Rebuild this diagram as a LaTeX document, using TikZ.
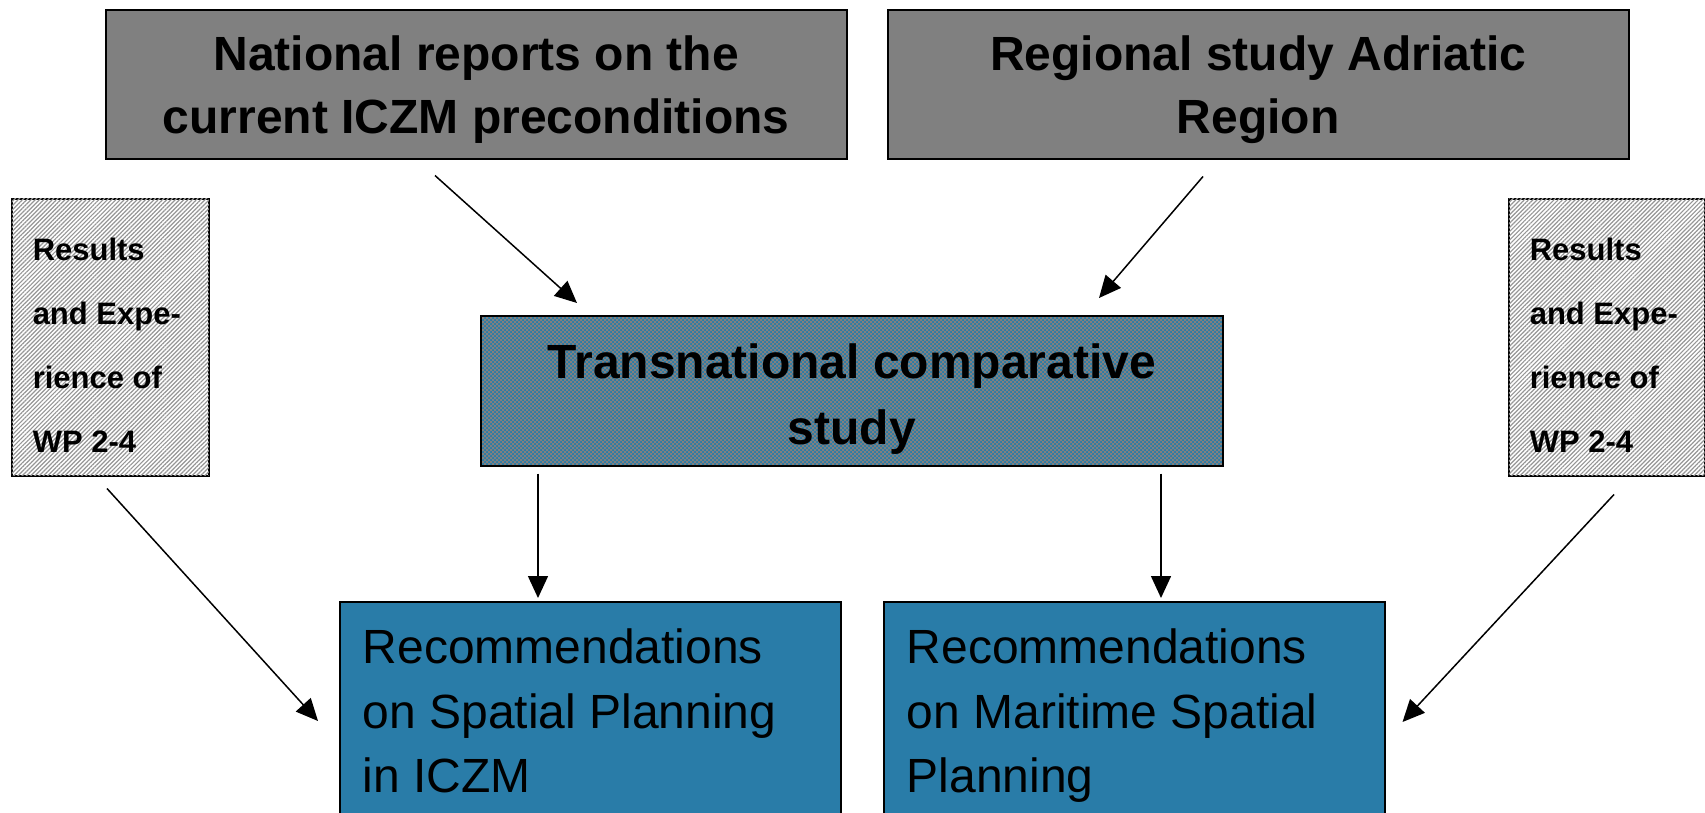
\documentclass[tikz,border=0pt]{standalone}
\usepackage{fontspec}
\setmainfont{Liberation Sans}
\usetikzlibrary{arrows.meta,patterns.meta,calc}
\definecolor{mblue}{RGB}{41,124,168}
\definecolor{mgray}{RGB}{128,128,128}
\definecolor{hgray}{RGB}{150,150,150}
\tikzset{
  basebox/.style={draw=black, line width=1.5pt, inner sep=0pt, anchor=north west, text height=0pt},
  graybox/.style={basebox, fill=mgray, font=\bfseries\fontsize{48}{63}\selectfont},
  transbox/.style={basebox, font=\bfseries\fontsize{48}{66}\selectfont},
  hatchbox/.style={basebox, fill=white, postaction={pattern={Lines[angle=45,distance=3pt,line width=1.2pt]}, pattern color=hgray}, font=\bfseries\fontsize{31}{64}\selectfont},
  recbox/.style={basebox, fill=mblue, font=\fontsize{48}{64.5}\selectfont},
  arr/.style={line width=1.5pt, -{Triangle[length=22pt,width=20pt]}}
}
\begin{document}
\begin{tikzpicture}[x=1pt,y=-1pt]
\useasboundingbox (0,0) rectangle (1705,812);
% top boxes
\node[graybox, minimum width=741pt, minimum height=149pt, text depth=27pt] (natl) at (105,9)
  {\parbox[t]{741pt}{\centering National reports on the\\current ICZM preconditions}};
\node[graybox, minimum width=741pt, minimum height=149pt, text depth=27pt] (adr) at (887,9)
  {\parbox[t]{741pt}{\centering Regional study Adriatic\\Region}};
% side boxes
\node[hatchbox, minimum width=197pt, minimum height=277pt, text depth=153pt] (resL) at (11,198)
  {\parbox[t]{155pt}{\raggedright Results\\and Expe-\\rience of\\WP 2-4}};
\node[hatchbox, minimum width=196pt, minimum height=277pt, text depth=153pt] (resR) at (1508,198)
  {\parbox[t]{154pt}{\raggedright Results\\and Expe-\\rience of\\WP 2-4}};
% middle box: checkered fill, then the node on top
\coordinate (tnw) at (480,315);
\begin{scope}[shift={(tnw)}]
  \fill[mblue] (0,0) rectangle (742,150);
  \clip (0,0) rectangle (742,150);
  \foreach \j in {0,...,74}{%
    \pgfmathsetmacro\myoff{mod(\j,2)*2}%
    \fill[mgray] foreach \i in {0,...,185} {(4*\i+\myoff, 2*\j) rectangle ++(2,2)};
  }
\end{scope}
\node[transbox, minimum width=742pt, minimum height=150pt, text depth=24pt] (trans) at (tnw)
  {\parbox[t]{742pt}{\centering Transnational comparative\\study}};
% bottom boxes
\node[recbox, minimum width=501pt, minimum height=230pt, text depth=106pt] (rec1) at (339,601)
  {\parbox[t]{455pt}{\raggedright Recommendations\\on Spatial Planning\\in ICZM}};
\node[recbox, minimum width=501pt, minimum height=230pt, text depth=106pt] (rec2) at (883,601)
  {\parbox[t]{455pt}{\raggedright Recommendations\\on Maritime Spatial\\Planning}};
% arrows
\draw[arr] ($(natl.south west)+(330,16)$) -- ($(trans.north west)+(97,-12)$);
\draw[arr] ($(adr.south west)+(316,17)$) -- ($(trans.north west)+(619,-17)$);
\draw[arr] ($(trans.south west)+(58,7)$) -- ($(rec1.north west)+(199,-3)$);
\draw[arr] ($(trans.south west)+(681,7)$) -- ($(rec2.north west)+(278,-3)$);
\draw[arr] ($(resL.south west)+(96,12)$) -- ($(rec1.north west)+(-21,120)$);
\draw[arr] ($(resR.south west)+(106,18)$) -- ($(rec2.north east)+(17,121)$);
\end{tikzpicture}
\end{document}
